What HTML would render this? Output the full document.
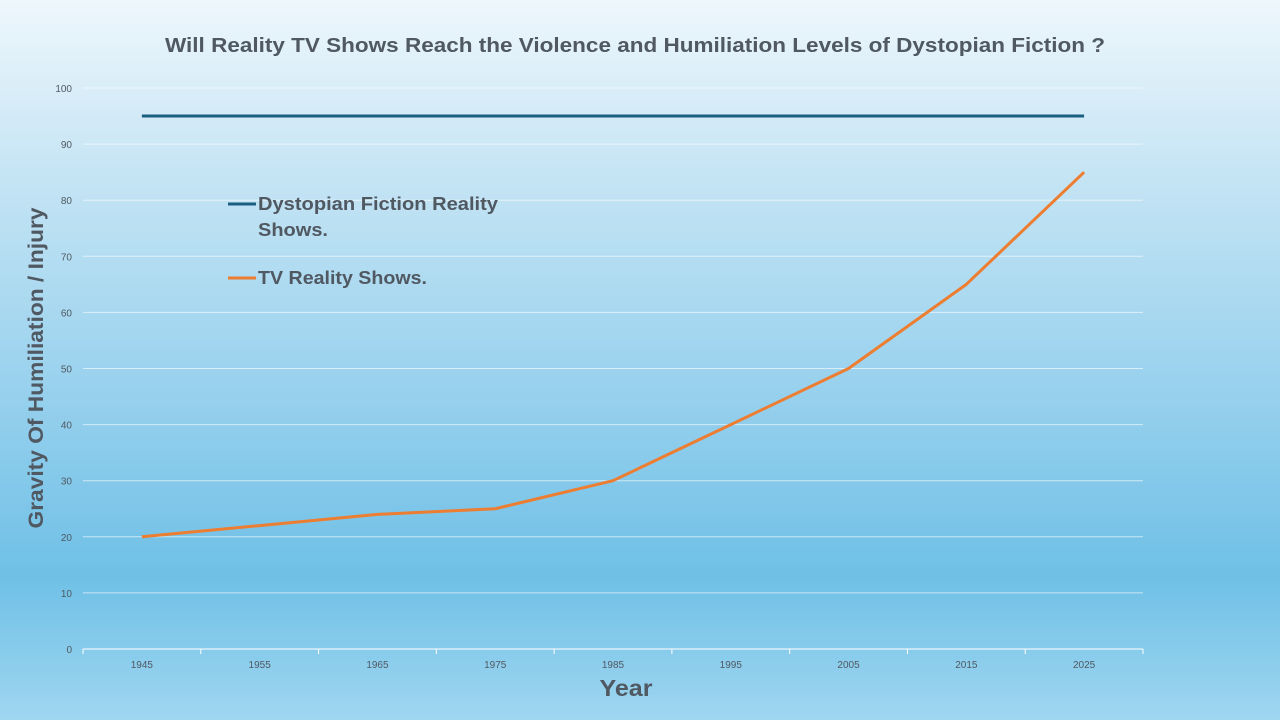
<!DOCTYPE html>
<html><head><meta charset="utf-8"><style>
html,body{margin:0;padding:0;width:1280px;height:720px;overflow:hidden}
body{background:linear-gradient(180deg,#eef7fc 0%,#c4e4f4 25%,#8fcdec 60%,#6fc0e6 80%,#9fd6f0 100%);font-family:"Liberation Sans",sans-serif}
</style></head><body>
<svg width="1280" height="720" id="chart" xmlns="http://www.w3.org/2000/svg">
<text x="635" y="52" text-anchor="middle" font-size="20" font-weight="bold" fill="#505862" textLength="940" lengthAdjust="spacingAndGlyphs">Will Reality TV Shows Reach the Violence and Humiliation Levels of Dystopian Fiction ?</text>
<g id="grid"></g><g id="series"></g>
<text x="0" y="0" transform="translate(43,368) rotate(-90)" text-anchor="middle" font-size="21" font-weight="bold" fill="#505862" textLength="321" lengthAdjust="spacingAndGlyphs">Gravity Of Humiliation / Injury</text>
<text x="626" y="696" text-anchor="middle" font-size="23" font-weight="bold" fill="#505862" textLength="53" lengthAdjust="spacingAndGlyphs">Year</text>
<g>
<line x1="228" y1="204" x2="256" y2="204" stroke="#1a5f80" stroke-width="3"/>
<text x="258" y="210" font-size="18" font-weight="bold" fill="#505862" textLength="240" lengthAdjust="spacingAndGlyphs">Dystopian Fiction Reality</text>
<text x="258" y="236" font-size="18" font-weight="bold" fill="#505862" textLength="70" lengthAdjust="spacingAndGlyphs">Shows.</text>
<line x1="228" y1="278" x2="256" y2="278" stroke="#ed7d31" stroke-width="3"/>
<text x="258" y="284" font-size="18" font-weight="bold" fill="#505862" textLength="169" lengthAdjust="spacingAndGlyphs">TV Reality Shows.</text>
</g>
</svg>
<script>
const categories=["1945","1955","1965","1975","1985","1995","2005","2015","2025"];
const dystopian=[95,95,95,95,95,95,95,95,95];
const tvReality=[20,22,24,25,30,40,50,65,85];
const yTicks=[0,10,20,30,40,50,60,70,80,90,100];
const NS="http://www.w3.org/2000/svg";
const L=83,R=1143,T=88,B=649;
const bw=(R-L)/categories.length;
const x=i=>L+bw*(i+0.5);
const y=v=>B-(v/100)*(B-T);
const grid=document.getElementById('grid'),ser=document.getElementById('series');
function mk(t,a,p){const e=document.createElementNS(NS,t);for(const k in a)e.setAttribute(k,a[k]);p.appendChild(e);return e;}
yTicks.forEach(v=>{
 const g=mk('line',{x1:L,x2:R,y1:y(v),y2:y(v),stroke:'#ffffff','stroke-width':1,opacity:v===0?1:0.6},grid);
 
 
 const t=mk('text',{x:72,y:y(v)+4,'text-anchor':'end','font-size':10,fill:'#505862'},grid);
 t.textContent=v;
 
 
});
for(let i=0;i<=categories.length;i++){
 const tk=mk('line',{x1:L+bw*i,x2:L+bw*i,y1:B,y2:B+5,stroke:'#ffffff'},grid);
 
 
}
categories.forEach((c,i)=>{
 const t=mk('text',{x:x(i),y:668,'text-anchor':'middle','font-size':10,fill:'#505862'},grid);
 t.textContent=c;
 
 
});
function line(d,col,name){
 const p=mk('polyline',{points:d.map((v,i)=>x(i)+','+y(v)).join(' '),fill:'none',stroke:col,'stroke-width':3,'stroke-linejoin':'round'},ser);
 
 
}
line(dystopian,'#1a5f80','dystopian-line');
line(tvReality,'#ed7d31','tv-reality-line');
</script>
</body></html>
